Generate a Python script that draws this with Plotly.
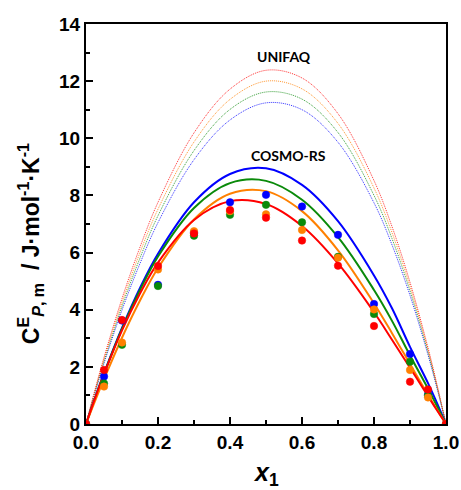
import plotly.graph_objects as go

# Experimental data
x_exp = [0, 0.05, 0.1, 0.2, 0.3, 0.4, 0.5, 0.6, 0.7, 0.8, 0.9, 0.95, 1.0]
exp_blue = [0, 1.66, 3.62, 4.87, 6.70, 7.76, 8.02, 7.61, 6.62, 4.20, 2.45, 1.02, 0]
exp_green = [0, 1.42, 2.77, 4.83, 6.59, 7.32, 7.67, 7.06, 5.85, 3.85, 2.18, 1.00, 0]
exp_orange = [0, 1.31, 2.85, 5.41, 6.75, 7.45, 7.34, 6.79, 5.82, 4.01, 1.89, 0.93, 0]
exp_red = [0, 1.89, 3.64, 5.53, 6.67, 7.49, 7.22, 6.42, 5.54, 3.43, 1.48, 1.21, 0]

# Model curves
x_mod = [0, 0.025, 0.05, 0.1, 0.15, 0.2, 0.3, 0.4, 0.5, 0.6, 0.7, 0.8, 0.85, 0.9, 0.95, 0.975, 1.0]
cosmo_blue = [0, 0.91, 1.77, 3.36, 4.76, 5.96, 7.76, 8.75, 8.95, 8.37, 7.10, 5.20, 4.05, 2.70, 1.43, 0.73, 0]
cosmo_green = [0, 0.90, 1.76, 3.33, 4.69, 5.86, 7.56, 8.43, 8.51, 7.85, 6.54, 4.69, 3.61, 2.40, 1.24, 0.62, 0]
cosmo_orange = [0, 0.80, 1.57, 3.02, 4.32, 5.46, 7.16, 8.06, 8.15, 7.45, 6.08, 4.22, 3.18, 2.10, 1.02, 0.50, 0]
cosmo_red = [0, 0.90, 1.75, 3.28, 4.57, 5.65, 7.14, 7.80, 7.70, 6.93, 5.62, 3.91, 2.95, 1.97, 0.97, 0.48, 0]

unifaq_red = [0, 1.20, 2.33, 4.39, 6.19, 7.76, 10.19, 11.72, 12.38, 12.11, 10.86, 8.52, 6.91, 4.96, 2.67, 1.38, 0]
unifaq_orange = [0, 1.16, 2.26, 4.25, 6.00, 7.52, 9.87, 11.36, 12.00, 11.73, 10.52, 8.26, 6.70, 4.81, 2.59, 1.34, 0]
unifaq_green = [0, 1.13, 2.19, 4.12, 5.81, 7.29, 9.57, 11.01, 11.62, 11.37, 10.20, 8.00, 6.49, 4.66, 2.51, 1.30, 0]
unifaq_blue = [0, 1.09, 2.12, 3.99, 5.62, 7.05, 9.25, 10.64, 11.24, 11.00, 9.86, 7.74, 6.27, 4.50, 2.42, 1.25, 0]

x_ticks = [0.0, 0.2, 0.4, 0.6, 0.8, 1.0]
y_ticks = [0, 2, 4, 6, 8, 10, 12, 14]

BLUE = "#0000FF"
GREEN = "#0A8A0A"
ORANGE = "#FF8000"
RED = "#FF0000"

fig = go.Figure()

for ys, c in [(unifaq_blue, BLUE), (unifaq_green, GREEN), (unifaq_orange, ORANGE), (unifaq_red, RED)]:
    fig.add_trace(go.Scatter(x=x_mod, y=ys, mode="lines", line=dict(color=c, width=1, dash="1px,1px", shape="spline"),
                             opacity=0.8, showlegend=False, hoverinfo="skip"))

for ys, c in [(cosmo_blue, BLUE), (cosmo_green, GREEN), (cosmo_orange, ORANGE), (cosmo_red, RED)]:
    fig.add_trace(go.Scatter(x=x_mod, y=ys, mode="lines", line=dict(color=c, width=2, shape="spline"),
                             showlegend=False))

for ys, c in [(exp_blue, BLUE), (exp_green, GREEN), (exp_orange, ORANGE), (exp_red, RED)]:
    fig.add_trace(go.Scatter(x=x_exp, y=ys, mode="markers",
                             marker=dict(color=c, size=7.5, line=dict(color=c, width=0.5)),
                             showlegend=False))

axis_common = dict(
    showline=True, linecolor="black", linewidth=2, mirror=True,
    ticks="inside", tickcolor="black", tickwidth=2, ticklen=7,
    showgrid=False, zeroline=False, automargin=False,
    tickfont=dict(family="Liberation Sans, Arial", size=19, color="black", weight="bold"),
)

fig.update_xaxes(range=[0, 1], tickvals=x_ticks, ticktext=[f"{v:.1f}" for v in x_ticks],
                 minor=dict(ticks="inside", ticklen=4, tickwidth=2, tickcolor="black", dtick=0.1, tick0=0),
                 **axis_common)
fig.update_yaxes(range=[0, 14], tickvals=y_ticks,
                 minor=dict(ticks="inside", ticklen=4, tickwidth=2, tickcolor="black", dtick=1, tick0=0),
                 **axis_common)

fig.add_annotation(x=0.549, y=12.85, xref="x", yref="y", text="<b>UNIFAQ</b>", showarrow=False,
                   font=dict(family="Lato, Open Sans", size=14, color="black"))
fig.add_annotation(x=0.563, y=9.41, xref="x", yref="y", text="<b>COSMO-RS</b>", showarrow=False,
                   font=dict(family="Lato, Open Sans", size=14, color="black"))

fig.add_annotation(
    xref="paper", yref="paper", x=-0.155, y=0.45, textangle=-90, showarrow=False,
    text="<b>C<sup>E</sup><sub><i>P</i>, m</sub>  / J·mol<sup>-1</sup>·K<sup>-1</sup></b>",
    font=dict(family="Liberation Sans, Arial", size=23, color="black"),
    xanchor="center", yanchor="middle",
)
fig.add_annotation(
    xref="paper", yref="paper", x=0.5, y=-0.124, showarrow=False,
    text="<b><i>x</i><sub>1</sub></b>",
    font=dict(family="Liberation Sans, Arial", size=25, color="black"),
    xanchor="center", yanchor="middle",
)

fig.update_layout(
    width=461, height=490, autosize=False,
    margin=dict(l=86, r=15, t=24, b=66, pad=0),
    plot_bgcolor="white", paper_bgcolor="white",
)

fig.write_html("out.html")
